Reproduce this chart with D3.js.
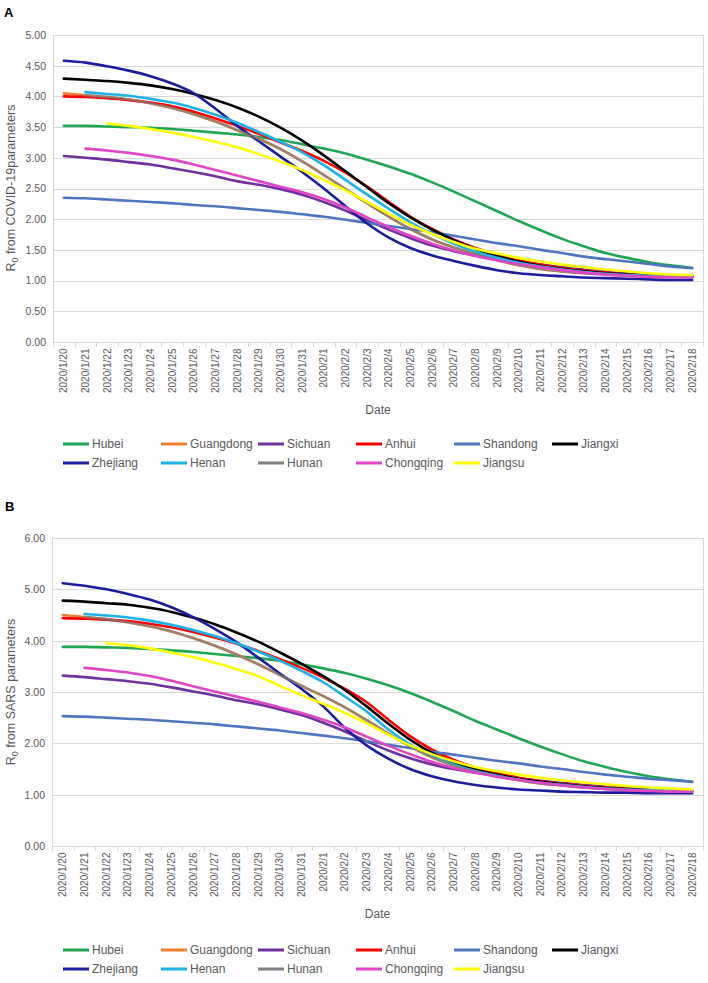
<!DOCTYPE html>
<html><head><meta charset="utf-8">
<script src="https://cdn.jsdelivr.net/npm/d3@7"></script>
<style>
html,body{margin:0;padding:0;background:#fff;}
svg{display:block;font-family:"Liberation Sans",Arial,sans-serif;}
</style></head>
<body><svg id="c" width="708" height="983"></svg>
<script>
// ---------- data ----------
const dates = ["2020/1/20","2020/1/21","2020/1/22","2020/1/23","2020/1/24","2020/1/25","2020/1/26","2020/1/27","2020/1/28","2020/1/29","2020/1/30","2020/1/31","2020/2/1","2020/2/2","2020/2/3","2020/2/4","2020/2/5","2020/2/6","2020/2/7","2020/2/8","2020/2/9","2020/2/10","2020/2/11","2020/2/12","2020/2/13","2020/2/14","2020/2/15","2020/2/16","2020/2/17","2020/2/18"];
const provinces = ["Hubei","Guangdong","Sichuan","Anhui","Shandong","Jiangxi","Zhejiang","Henan","Hunan","Chongqing","Jiangsu"];
const yTicksA = [0,0.5,1,1.5,2,2.5,3,3.5,4,4.5,5];
const yTicksB = [0,1,2,3,4,5,6];

// Panel A: R0 from COVID-19 parameters
const aHubei = [3.52,3.52,3.51,3.50,3.49,3.47,3.44,3.41,3.38,3.34,3.29,3.22,3.15,3.07,2.97,2.86,2.74,2.60,2.45,2.29,2.13,1.97,1.82,1.68,1.56,1.45,1.37,1.30,1.25,1.21];
const aGuangdong = [4.05,4.02,3.99,3.95,3.89,3.81,3.71,3.59,3.45,3.31,3.14,2.94,2.72,2.49,2.26,2.04,1.84,1.67,1.54,1.43,1.33,1.25,1.19,1.15,1.12,1.10,1.08,1.07,1.07,1.07];
const aSichuan = [3.03,3.00,2.97,2.93,2.89,2.83,2.77,2.70,2.62,2.56,2.49,2.40,2.28,2.14,1.98,1.83,1.69,1.57,1.48,1.41,1.36,1.31,1.26,1.22,1.18,1.15,1.12,1.10,1.08,1.07];
const aAnhui = [4.00,3.99,3.97,3.94,3.90,3.84,3.75,3.64,3.52,3.39,3.25,3.11,2.95,2.76,2.53,2.28,2.04,1.84,1.67,1.53,1.42,1.33,1.26,1.20,1.16,1.13,1.10,1.08,1.07,1.06];
const aShandong = [2.35,2.34,2.32,2.30,2.28,2.26,2.23,2.21,2.18,2.15,2.12,2.08,2.04,1.99,1.94,1.89,1.84,1.79,1.73,1.67,1.61,1.56,1.50,1.45,1.39,1.35,1.31,1.27,1.23,1.20];
const aJiangxi = [4.29,4.27,4.25,4.22,4.18,4.12,4.04,3.94,3.82,3.67,3.49,3.28,3.04,2.78,2.52,2.26,2.03,1.83,1.66,1.52,1.40,1.31,1.24,1.19,1.15,1.12,1.10,1.08,1.07,1.06];
const aZhejiang = [4.58,4.55,4.49,4.42,4.33,4.21,4.05,3.80,3.52,3.27,3.02,2.77,2.50,2.21,1.93,1.70,1.53,1.41,1.32,1.24,1.17,1.12,1.09,1.07,1.05,1.04,1.03,1.02,1.01,1.01];
const aHenan = [null,4.07,4.04,4.01,3.96,3.90,3.81,3.70,3.57,3.42,3.26,3.09,2.88,2.64,2.40,2.17,1.95,1.76,1.60,1.47,1.37,1.29,1.23,1.18,1.14,1.11,1.09,1.08,1.07,1.07];
const aHunan = [null,4.02,3.99,3.95,3.89,3.81,3.71,3.59,3.45,3.31,3.14,2.94,2.72,2.49,2.26,2.04,1.84,1.67,1.54,1.43,1.33,1.25,1.19,1.15,1.12,1.10,1.08,1.07,1.07,1.07];
const aChongqing = [null,3.15,3.12,3.08,3.03,2.97,2.89,2.80,2.71,2.62,2.53,2.44,2.33,2.19,2.03,1.87,1.73,1.60,1.49,1.40,1.33,1.27,1.22,1.17,1.13,1.10,1.08,1.06,1.05,1.05];
const aJiangsu = [null,null,3.56,3.52,3.47,3.41,3.34,3.26,3.17,3.06,2.94,2.80,2.64,2.47,2.28,2.09,1.91,1.76,1.63,1.52,1.44,1.37,1.31,1.26,1.22,1.18,1.15,1.12,1.10,1.09];

// Panel B: R0 from SARS parameters
const bHubei = [3.88,3.88,3.87,3.86,3.84,3.81,3.78,3.74,3.70,3.66,3.61,3.54,3.46,3.37,3.26,3.13,2.98,2.81,2.63,2.44,2.27,2.10,1.94,1.79,1.65,1.54,1.44,1.36,1.30,1.25];
const bGuangdong = [4.50,4.46,4.42,4.36,4.28,4.18,4.05,3.90,3.73,3.54,3.33,3.12,2.92,2.70,2.45,2.19,1.94,1.73,1.57,1.45,1.36,1.28,1.22,1.18,1.14,1.11,1.09,1.08,1.07,1.07];
const bSichuan = [3.32,3.29,3.25,3.21,3.16,3.09,3.01,2.93,2.84,2.76,2.66,2.55,2.40,2.23,2.04,1.86,1.71,1.59,1.50,1.43,1.37,1.32,1.27,1.23,1.19,1.16,1.13,1.11,1.10,1.09];
const bAnhui = [4.44,4.43,4.41,4.38,4.33,4.26,4.17,4.06,3.94,3.80,3.64,3.47,3.28,3.06,2.80,2.46,2.14,1.88,1.68,1.53,1.42,1.33,1.26,1.21,1.17,1.14,1.11,1.09,1.08,1.07];
const bShandong = [2.53,2.52,2.50,2.48,2.46,2.43,2.40,2.37,2.33,2.29,2.25,2.20,2.15,2.10,2.04,1.97,1.91,1.84,1.78,1.72,1.66,1.61,1.55,1.50,1.44,1.39,1.35,1.31,1.28,1.25];
const bJiangxi = [4.78,4.76,4.73,4.70,4.64,4.56,4.45,4.32,4.16,3.98,3.77,3.55,3.31,3.04,2.72,2.38,2.07,1.82,1.63,1.49,1.39,1.31,1.25,1.20,1.16,1.13,1.11,1.09,1.08,1.07];
const bZhejiang = [5.12,5.07,5.00,4.91,4.80,4.65,4.46,4.23,3.97,3.67,3.36,3.06,2.72,2.30,1.96,1.70,1.50,1.36,1.26,1.19,1.14,1.10,1.08,1.06,1.05,1.04,1.04,1.03,1.03,1.03];
const bHenan = [null,4.52,4.49,4.45,4.39,4.31,4.21,4.09,3.95,3.79,3.61,3.41,3.19,2.91,2.62,2.27,1.98,1.76,1.59,1.46,1.37,1.29,1.23,1.19,1.15,1.12,1.10,1.09,1.08,1.07];
const bHunan = [null,4.46,4.42,4.36,4.28,4.18,4.05,3.90,3.73,3.54,3.33,3.12,2.92,2.70,2.45,2.19,1.94,1.73,1.57,1.45,1.36,1.28,1.22,1.18,1.14,1.11,1.09,1.08,1.07,1.07];
const bChongqing = [null,3.47,3.43,3.38,3.31,3.22,3.11,3.01,2.91,2.81,2.70,2.59,2.46,2.31,2.13,1.95,1.79,1.64,1.52,1.43,1.35,1.29,1.23,1.18,1.14,1.11,1.09,1.07,1.06,1.06];
const bJiangsu = [null,null,3.95,3.91,3.85,3.77,3.68,3.57,3.45,3.31,3.12,2.94,2.77,2.59,2.39,2.17,1.96,1.79,1.65,1.54,1.46,1.39,1.33,1.28,1.24,1.20,1.17,1.14,1.12,1.10];

const seriesA = [aHubei,aGuangdong,aSichuan,aAnhui,aShandong,aJiangxi,aZhejiang,aHenan,aHunan,aChongqing,aJiangsu];
const seriesB = [bHubei,bGuangdong,bSichuan,bAnhui,bShandong,bJiangxi,bZhejiang,bHenan,bHunan,bChongqing,bJiangsu];

// ---------- styles ----------
const colors = {Hubei:"#1fa652",Guangdong:"#ed7d31",Sichuan:"#7030a0",Anhui:"#ff0000",Shandong:"#4f75c0",Jiangxi:"#000000",Zhejiang:"#1c1c9e",Henan:"#1cb2e8",Hunan:"#7f7f7f",Chongqing:"#df45c6",Jiangsu:"#ffff00"};
const txt = "#595959";

const svg = d3.select("#c");

function panel(cfg){
  const g = svg.append("g");
  const x = d3.scaleBand().domain(dates).range([cfg.x0, cfg.x1]);
  const y = d3.scaleLinear().domain([0, cfg.ymax]).range([cfg.yb, cfg.yt]);

  // gridlines
  g.append("g").selectAll("line").data(cfg.ticks.filter(t=>t>0)).join("line")
    .attr("x1",cfg.x0).attr("x2",cfg.x1)
    .attr("y1",d=>Math.round(y(d))+0.5).attr("y2",d=>Math.round(y(d))+0.5)
    .attr("stroke","#d9d9d9").attr("stroke-width",1);
  // left & right borders
  g.append("line").attr("x1",cfg.x0+0.5).attr("x2",cfg.x0+0.5).attr("y1",y(cfg.ymax)).attr("y2",cfg.yb)
    .attr("stroke","#d9d9d9");
  g.append("line").attr("x1",cfg.x1+0.5).attr("x2",cfg.x1+0.5).attr("y1",y(cfg.ymax)).attr("y2",cfg.yb)
    .attr("stroke","#d9d9d9");

  // y axis labels
  const ya = d3.axisLeft(y).tickValues(cfg.ticks).tickFormat(d3.format(".2f")).tickSize(0).tickPadding(7);
  const yg = g.append("g").attr("transform",`translate(${cfg.x0},0)`).call(ya);
  yg.select(".domain").remove();
  yg.selectAll("text").attr("fill",txt).style("font-size","10.5px");

  // x axis
  const xa = d3.axisBottom(x).tickSizeOuter(0).tickSize(0).tickPadding(0);
  const xg = g.append("g").attr("transform",`translate(0,${Math.round(cfg.yb)+0.5})`).call(xa);
  xg.select(".domain").attr("stroke","#d9d9d9").attr("d",`M${cfg.x0},0H${cfg.x1}`);
  xg.selectAll("text").attr("fill",txt).style("font-size","10px")
    .attr("transform","rotate(-90)").attr("text-anchor","end")
    .attr("x",-6).attr("y",0).attr("dy","0.35em");
  // tick marks at category boundaries
  const bounds = dates.map(d=>x(d)).concat([cfg.x1]);
  g.append("g").selectAll("line").data(bounds).join("line")
    .attr("x1",d=>Math.round(d)+0.5).attr("x2",d=>Math.round(d)+0.5)
    .attr("y1",cfg.yb).attr("y2",cfg.yb+5).attr("stroke","#d9d9d9");

  // lines
  const line = d3.line()
    .defined(d=>d.v!=null)
    .x(d=>x(d.date)+x.bandwidth()/2)
    .y(d=>y(d.v))
    .curve(d3.curveMonotoneX);
  cfg.series.forEach((vals,i)=>{
    const name = provinces[i];
    const pts = vals.map((v,j)=>({date:dates[j],v}));
    g.append("path").datum(pts).attr("d",line)
      .attr("fill","none").attr("stroke",colors[name])
      .attr("stroke-width",2.6)
      .attr("stroke-opacity", name==="Hunan"?0.72:1)
      .attr("stroke-linejoin","round").attr("stroke-linecap","round");
  });

  // axis titles
  g.append("text").attr("x",(cfg.x0+cfg.x1)/2).attr("y",cfg.dateY)
    .attr("text-anchor","middle").attr("fill",txt).style("font-size","12px").text("Date");
  const yt = g.append("text").attr("transform",`translate(${cfg.ytX},${cfg.ytY}) rotate(-90)`)
    .attr("text-anchor","middle").attr("fill",txt).style("font-size","12.5px");
  yt.append("tspan").text("R");
  yt.append("tspan").attr("dy","3").style("font-size","9px").text("0");
  yt.append("tspan").attr("dy","-3").text(cfg.ytitle);

  // panel letter
  g.append("text").attr("x",cfg.letterX).attr("y",cfg.letterY).attr("fill","#000")
    .style("font-size","13px").style("font-weight","bold").text(cfg.letter);

  // legend
  const legX = [63,161,258,356,454,552];
  const lg = g.append("g");
  provinces.forEach((name,i)=>{
    const col = i%6, row = Math.floor(i/6);
    const lx = legX[col], ly = cfg.legY + row*19;
    lg.append("line").attr("x1",lx).attr("x2",lx+26).attr("y1",ly).attr("y2",ly)
      .attr("stroke",colors[name]).attr("stroke-width",3);
    lg.append("text").attr("x",lx+29).attr("y",ly).attr("dy","0.35em")
      .attr("fill",txt).style("font-size","12px").text(name);
  });
}

panel({series:seriesA, ticks:yTicksA, ymax:5, x0:53, x1:703, yt:35, yb:342,
  dateY:414, ytX:15, ytY:188, ytitle:" from COVID-19parameters", letter:"A", letterX:4, letterY:17, legY:444});
panel({series:seriesB, ticks:yTicksB, ymax:6, x0:52, x1:703, yt:538, yb:846,
  dateY:918, ytX:15, ytY:692, ytitle:" from SARS parameters", letter:"B", letterX:5, letterY:511, legY:950});
</script></body></html>
